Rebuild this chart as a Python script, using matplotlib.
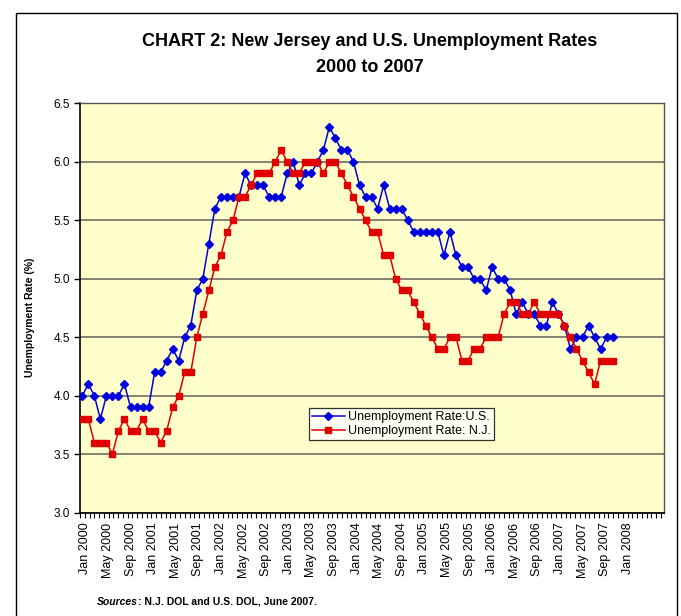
import matplotlib
matplotlib.use("Agg")
import matplotlib.pyplot as plt
from matplotlib.patches import Rectangle
import numpy as np

# ---------------- data (monthly, Jan 2000 .. May 2007) ----------------
us_rate = [4.0, 4.1, 4.0, 3.8, 4.0, 4.0, 4.0, 4.1, 3.9, 3.9, 3.9, 3.9,
           4.2, 4.2, 4.3, 4.4, 4.3, 4.5, 4.6, 4.9, 5.0, 5.3, 5.6, 5.7,
           5.7, 5.7, 5.7, 5.9, 5.8, 5.8, 5.8, 5.7, 5.7, 5.7, 5.9, 6.0,
           5.8, 5.9, 5.9, 6.0, 6.1, 6.3, 6.2, 6.1, 6.1, 6.0, 5.8, 5.7,
           5.7, 5.6, 5.8, 5.6, 5.6, 5.6, 5.5, 5.4, 5.4, 5.4, 5.4, 5.4,
           5.2, 5.4, 5.2, 5.1, 5.1, 5.0, 5.0, 4.9, 5.1, 5.0, 5.0, 4.9,
           4.7, 4.8, 4.7, 4.7, 4.6, 4.6, 4.8, 4.7, 4.6, 4.4, 4.5, 4.5,
           4.6, 4.5, 4.4, 4.5, 4.5]
nj_rate = [3.8, 3.8, 3.6, 3.6, 3.6, 3.5, 3.7, 3.8, 3.7, 3.7, 3.8, 3.7,
           3.7, 3.6, 3.7, 3.9, 4.0, 4.2, 4.2, 4.5, 4.7, 4.9, 5.1, 5.2,
           5.4, 5.5, 5.7, 5.7, 5.8, 5.9, 5.9, 5.9, 6.0, 6.1, 6.0, 5.9,
           5.9, 6.0, 6.0, 6.0, 5.9, 6.0, 6.0, 5.9, 5.8, 5.7, 5.6, 5.5,
           5.4, 5.4, 5.2, 5.2, 5.0, 4.9, 4.9, 4.8, 4.7, 4.6, 4.5, 4.4,
           4.4, 4.5, 4.5, 4.3, 4.3, 4.4, 4.4, 4.5, 4.5, 4.5, 4.7, 4.8,
           4.8, 4.7, 4.7, 4.8, 4.7, 4.7, 4.7, 4.7, 4.6, 4.5, 4.4, 4.3,
           4.2, 4.1, 4.3, 4.3, 4.3]
tick_labels = ["Jan 2000", "May 2000", "Sep 2000", "Jan 2001", "May 2001",
               "Sep 2001", "Jan 2002", "May 2002", "Sep 2002", "Jan 2003",
               "May 2003", "Sep 2003", "Jan 2004", "May 2004", "Sep 2004",
               "Jan 2005", "May 2005", "Sep 2005", "Jan 2006", "May 2006",
               "Sep 2006", "Jan 2007", "May 2007", "Sep 2007", "Jan 2008"]
y_ticks = [3.0, 3.5, 4.0, 4.5, 5.0, 5.5, 6.0, 6.5]
series_names = ["Unemployment Rate:U.S.", "Unemployment Rate: N.J."]

# ---------------- figure ----------------
plt.rcParams['font.family'] = ['Liberation Sans', 'DejaVu Sans']
fig = plt.figure(figsize=(6.81, 6.16), dpi=100)
fig.patch.set_facecolor('white')

# outer frame of the chart
fig.patches.append(Rectangle((16 / 681, -0.02), (677 - 16) / 681, 1.02 - 13 / 616,
                             transform=fig.transFigure, fill=False,
                             edgecolor='black', linewidth=1.0))

ax = fig.add_axes([80 / 681, 1 - 512.7 / 616, 584 / 681, 409.4 / 616])
ax.set_facecolor('#FFFFCC')

months = np.arange(len(us_rate))
ax.plot(months, us_rate, color='#0000DD', linewidth=1.1, marker='D',
        markersize=4, markerfacecolor='#0000DD', markeredgecolor='#0000DD',
        label=series_names[0], zorder=3)
ax.plot(months, nj_rate, color='#E00000', linewidth=1.1, marker='s',
        markersize=4.5, markerfacecolor='#E00000', markeredgecolor='#E00000',
        label=series_names[1], zorder=4)

ax.set_xlim(-0.38, 96.52)
ax.set_ylim(3.0, 6.5)

# y axis
ax.set_yticks(y_ticks)
ax.set_yticklabels([f"{v:.1f}" for v in y_ticks], fontsize=8.5)
ax.yaxis.grid(True, color='#7a7a6a', linewidth=1.3)
ax.set_axisbelow(True)
ax.tick_params(axis='y', direction='out', length=4, width=1, pad=3)

# x axis
label_offset, label_step = 0.5, 3.75
ax.set_xticks([label_offset + label_step * i for i in range(len(tick_labels))])
ax.set_xticklabels(tick_labels, rotation=90, fontsize=9)
ax.set_xticks(np.arange(-0.38, 96.6, 0.79), minor=True)
ax.tick_params(axis='x', which='major', length=0, pad=7)
ax.tick_params(axis='x', which='minor', direction='out', length=3.5, width=0.8)

for side in ['left', 'bottom']:
    ax.spines[side].set_color('black')
    ax.spines[side].set_linewidth(1.2)
for side in ['top', 'right']:
    ax.spines[side].set_color('#555555')
    ax.spines[side].set_linewidth(1.0)

ax.set_ylabel("Unemployment Rate (%)", fontsize=7.5, fontweight='bold')
ax.yaxis.set_label_coords(-0.077, 0.478)

leg = ax.legend(loc='upper left', bbox_to_anchor=(0.392, 0.2557), fontsize=9,
                frameon=True, fancybox=False, edgecolor='black',
                borderpad=0.25, handlelength=2.6, handletextpad=0.3,
                labelspacing=0.15, borderaxespad=0)
leg.get_frame().set_linewidth(0.9)
leg.get_frame().set_facecolor('white')

fig.text(370 / 681, 1 - 42 / 616, "CHART 2: New Jersey and U.S. Unemployment Rates",
         ha='center', va='center', fontsize=13, fontweight='bold')
fig.text(370 / 681, 1 - 68 / 616, "2000 to 2007",
         ha='center', va='center', fontsize=13, fontweight='bold')

src = fig.text(97 / 681, 1 - 602 / 616, "Sources", ha='left', va='center',
               fontsize=7.5, fontweight='bold', fontstyle='italic')
fig.canvas.draw()
bb = src.get_window_extent()
fig.text(bb.x1 / fig.bbox.width, 1 - 602 / 616, ": N.J. DOL and U.S. DOL, June 2007.",
         ha='left', va='center', fontsize=7.5, fontweight='bold')

fig.savefig("out.png", dpi=100)
